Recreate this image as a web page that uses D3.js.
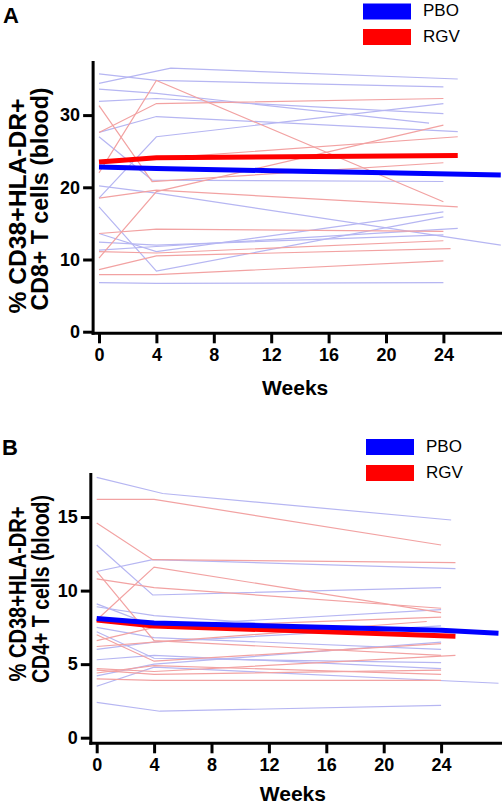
<!DOCTYPE html>
<html><head><meta charset="utf-8">
<script src="https://cdn.jsdelivr.net/npm/d3@7"></script>
<style>body{margin:0;background:#fff}svg{display:block}</style>
</head><body><svg id="c" width="502" height="806"></svg>
<script>
const weekTicks = [0, 4, 8, 12, 16, 20, 24];
const yTicksA = [0, 10, 20, 30];
const yTicksB = [0, 5, 10, 15];
const legendLabels = ["PBO", "RGV"];
const labelA = ["% CD38+HLA-DR+", "CD8+ T cells (blood)"];
const labelB = ["% CD38+HLA-DR+", "CD4+ T cells (blood)"];

// Panel A: individual subjects [week, %]
const pboA = [
  [[0,34.4],[5,36.5],[25,35.0]],
  [[0,35.7],[4,34.8],[24,33.9]],
  [[0,33.6],[4,33.0],[23,28.9]],
  [[0,31.9],[4,32.3],[24,30.2]],
  [[0,27.6],[4,29.8],[25,27.7]],
  [[0,27.0],[3.7,21.0],[24,20.8]],
  [[0,18.5],[4,27.0],[24,31.6]],
  [[0,20.2],[4,19.2],[28,12.0]],
  [[0,17.3],[4,8.4],[24,15.9]],
  [[0,13.6],[4,11.1],[24,16.6]],
  [[0,11.3],[4,11.8],[25,14.3]],
  [[0,12.4],[4,12.0],[24,13.4]],
  [[0,6.8],[4,6.7],[24,6.8]]
];
const rgvA = [
  [[0,27.6],[4,31.6],[24,32.3]],
  [[0,22.0],[4,34.8],[24,18.0]],
  [[0,31.3],[3.7,20.8],[24,23.4]],
  [[0,10.2],[4,19.4],[24,28.6]],
  [[0,18.5],[4,19.6],[25,17.3]],
  [[0,23.7],[4,24.0],[25,27.0]],
  [[0,13.6],[4,14.2],[24,13.9]],
  [[0,11.1],[4,10.9],[24,12.6]],
  [[0,8.6],[4,10.5],[24.5,11.5]],
  [[0,7.9],[4,7.9],[24,9.8]]
];
const meanPboA = [[0,22.8],[4,22.6],[12,22.3],[20,22.0],[28,21.7]];
const meanRgvA = [[0,23.5],[4,24.1],[25,24.4]];

// Panel B
const pboB = [
  [[0,17.7],[4.6,16.6],[24.7,14.8]],
  [[0,13.1],[3.9,9.7],[24,10.2]],
  [[0,11.3],[3.9,12.1],[25,11.5]],
  [[0,9.1],[4,7.6],[24,8.7]],
  [[0,8.9],[4,8.3],[24,6.9]],
  [[0,7.5],[4,6.8],[24,6.0]],
  [[0,7.2],[4,5.4],[24,5.1]],
  [[0,6.0],[4,6.5],[24,7.6]],
  [[0,5.3],[4,5.6],[24,4.7]],
  [[0,4.2],[4,5.0],[24,6.5]],
  [[0,3.5],[4,4.8],[28,3.7]],
  [[0,2.4],[4.4,1.8],[24,2.2]]
];
const rgvB = [
  [[0,16.2],[4,16.2],[24,13.1]],
  [[0,14.6],[3.9,12.1],[25,11.9]],
  [[0,11.3],[4,6.6],[24,5.6]],
  [[0,10.8],[4,10.2],[24,8.8]],
  [[0,8.0],[4,11.6],[24,8.5]],
  [[0,6.6],[4,7.5],[24,8.2]],
  [[0,6.2],[4,6.5],[23,7.9]],
  [[0,4.7],[4,4.5],[25,5.6]],
  [[0,4.6],[4,4.3],[24,4.6]],
  [[0,4.4],[4,4.9],[24,4.3]],
  [[0,4.0],[4,3.9],[24,3.9]],
  [[0,7.0],[4,5.2],[24,6.4]]
];
const meanPboB = [[0,8.1],[4,7.8],[24,7.3],[28,7.1]];
const meanRgvB = [[0,8.0],[4,7.6],[25,6.9]];

const svg = d3.select("#c");
const FONT = "'Liberation Sans', Arial, sans-serif";

function panel(c) {
  const g = svg.append("g");
  const x = d3.scaleLinear().domain([0, 28]).range(c.xr);
  const y = d3.scaleLinear().domain([0, c.yMax]).range(c.yr);
  const line = d3.line().x(d => x(d[0])).y(d => y(d[1]));

  g.append("g").selectAll("path").data(c.pbo).join("path")
    .attr("d", line).attr("fill", "none").attr("stroke", "#b6b6f2").attr("stroke-width", 1.2);
  g.append("g").selectAll("path").data(c.rgv).join("path")
    .attr("d", line).attr("fill", "none").attr("stroke", "#f2a2a2").attr("stroke-width", 1.2);
  g.append("path").datum(c.mr).attr("d", line).attr("fill", "none")
    .attr("stroke", "#ff0000").attr("stroke-width", 5);
  g.append("path").datum(c.mp).attr("d", line).attr("fill", "none")
    .attr("stroke", "#0000ff").attr("stroke-width", 5);

  const axX = x(-0.41);
  const baseY = c.yr[0] + c.xOff;

  const yg = g.append("g").attr("transform", `translate(${axX},0)`)
    .call(d3.axisLeft(y).tickValues(c.yt).tickSize(10).tickPadding(3).tickSizeOuter(0));
  yg.select(".domain").remove();
  yg.selectAll("line").attr("stroke", "#000").attr("stroke-width", 3);
  yg.attr("font-family", FONT).attr("font-size", 18).attr("font-weight", "bold");
  yg.selectAll("text").attr("fill", "#000");

  const xg = g.append("g").attr("transform", `translate(0,${baseY})`)
    .call(d3.axisBottom(x).tickValues(weekTicks).tickSize(10).tickPadding(5).tickSizeOuter(0));
  xg.select(".domain").remove();
  xg.selectAll("line").attr("stroke", "#000").attr("stroke-width", 3);
  xg.attr("font-family", FONT).attr("font-size", 18).attr("font-weight", "bold");
  xg.selectAll("text").attr("fill", "#000");

  g.append("line").attr("x1", axX).attr("x2", axX).attr("y1", y(c.yMax)).attr("y2", baseY + 1.5)
    .attr("stroke", "#000").attr("stroke-width", 3);
  g.append("line").attr("x1", axX - 1.5).attr("x2", 502).attr("y1", baseY).attr("y2", baseY)
    .attr("stroke", "#000").attr("stroke-width", 3);

  g.append("text").attr("x", (x(0) + x(24)) / 2 + 24).attr("y", c.weeksY)
    .attr("text-anchor", "middle").attr("font-family", FONT).attr("font-weight", "bold")
    .attr("font-size", 21).text("Weeks");

  c.lab.forEach((t, i) => {
    g.append("text").attr("transform", `translate(${c.labX[i]},${c.labCY[i]}) rotate(-90)`)
      .attr("text-anchor", "middle").attr("font-family", FONT).attr("font-weight", "bold")
      .attr("font-size", 23).attr("textLength", c.labLen[i]).attr("lengthAdjust", "spacingAndGlyphs")
      .text(t);
  });

  g.append("text").attr("x", c.letterX).attr("y", c.letterY).attr("font-family", FONT)
    .attr("font-weight", "bold").attr("font-size", 22).text(c.letter);

  const cols = ["#0000ff", "#ff0000"];
  legendLabels.forEach((t, i) => {
    g.append("rect").attr("x", c.legX).attr("y", c.legY[i]).attr("width", 48).attr("height", 16)
      .attr("fill", cols[i]);
    g.append("text").attr("x", c.legX + 60).attr("y", c.legY[i] + 12.5).attr("font-family", FONT)
      .attr("font-size", 17).text(t);
  });
}

panel({
  xr: [99, 99 + 28 * 14.35], yMax: 37.5, yr: [331.7, 331.7 - 37.5 * 7.22], xOff: 1.6,
  yt: yTicksA, pbo: pboA, rgv: rgvA, mp: meanPboA, mr: meanRgvA,
  weeksY: 395, lab: labelA, labX: [26, 48], labCY: [206, 199], labLen: [215, 223],
  letter: "A", letterX: 3, letterY: 23, legX: 363, legY: [3.5, 29]
});
panel({
  xr: [96.7, 96.7 + 28 * 14.35], yMax: 18, yr: [737.7, 737.7 - 18 * 14.71], xOff: 5.6,
  yt: yTicksB, pbo: pboB, rgv: rgvB, mp: meanPboB, mr: meanRgvB,
  weeksY: 801, lab: labelB, labX: [26, 49], labCY: [594, 589], labLen: [175, 188],
  letter: "B", letterX: 2, letterY: 455, legX: 366, legY: [439, 465]
});
</script></body></html>
